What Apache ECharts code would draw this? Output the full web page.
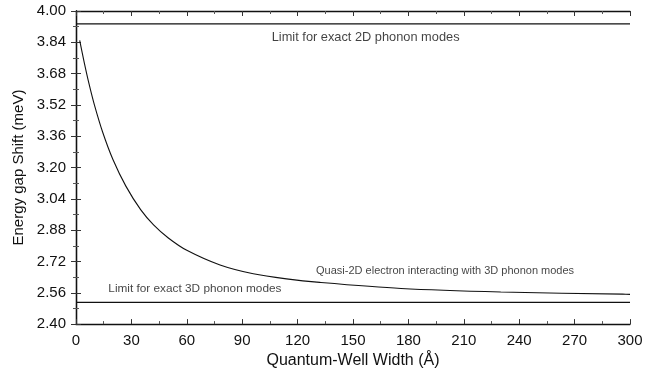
<!DOCTYPE html>
<html><head><meta charset="utf-8">
<script src="https://cdn.jsdelivr.net/npm/echarts@6/dist/echarts.min.js"></script>
<style>html,body{margin:0;padding:0;background:#fff}#c{width:662px;height:374px}</style>
</head><body><div id="c"></div>
<script>
// Data
const curveX = [2, 4.5, 7, 10, 14.5, 20, 27, 35, 42, 50, 60, 78, 96, 114, 132, 176, 230, 296, 300];
const curveY = [3.85, 3.735, 3.63, 3.519, 3.379, 3.241, 3.105, 2.985, 2.907, 2.840, 2.777, 2.702, 2.657, 2.631, 2.613, 2.582, 2.564, 2.553, 2.552];
const limit2D = 3.934;
const limit3D = 2.511;
const xRange = [0, 300];
const yRange = [2.40, 4.00];
const annotX = [106, 130, 17.5];
const annotY = [3.866, 2.673, 2.579];
const annotText = ['Limit for exact 2D phonon modes', 'Quasi-2D electron interacting with 3D phonon modes', 'Limit for exact 3D phonon modes'];
// text styles (kept apart from data)
const annotFontSize = [12.8, 11, 11.8];

const font = "'Liberation Sans', Arial, sans-serif";
const chart = echarts.init(document.getElementById('c'));
const axisCommon = {
  type: 'value',
  axisLine: { show: true, lineStyle: { color: '#111', width: 1.3 } },
  axisTick: { show: true, inside: true, length: 5, lineStyle: { color: '#333' } },
  minorTick: { show: true, splitNumber: 2, length: 3, lineStyle: { color: '#555' } },
  splitLine: { show: false }
};
chart.setOption({
  animation: false,
  grid: { left: 76, right: 32, top: 11, bottom: 41 },
  xAxis: [
    Object.assign({}, axisCommon, {
      min: xRange[0], max: xRange[1], interval: 30, position: 'bottom',
      name: 'Quantum-Well Width (Å)', nameLocation: 'middle', nameGap: 26,
      nameTextStyle: { fontFamily: font, fontSize: 16, color: '#111' },
      axisLabel: { fontFamily: font, fontSize: 15, color: '#111', margin: 9 }
    }),
    Object.assign({}, axisCommon, {
      min: xRange[0], max: xRange[1], interval: 30, position: 'top',
      axisLabel: { show: false }
    })
  ],
  yAxis: [
    Object.assign({}, axisCommon, {
      min: yRange[0], max: yRange[1], interval: 0.16, position: 'left',
      name: 'Energy gap Shift (meV)', nameLocation: 'middle', nameGap: 50,
      nameTextStyle: { fontFamily: font, fontSize: 15, color: '#111' },
      axisLabel: { fontFamily: font, fontSize: 15, color: '#111', margin: 10,
        formatter: v => v.toFixed(2) }
    }),
    Object.assign({}, axisCommon, {
      min: yRange[0], max: yRange[1], interval: 0.16, position: 'right',
      axisLabel: { show: false }
    })
  ],
  series: [
    {
      type: 'line', smooth: 0.3, showSymbol: false,
      data: curveX.map((x, i) => [x, curveY[i]]),
      lineStyle: { color: '#111', width: 1.1 }
    },
    {
      type: 'line', showSymbol: false,
      data: [[xRange[0], limit2D], [xRange[1], limit2D]],
      lineStyle: { color: '#111', width: 1.2 }
    },
    {
      type: 'line', showSymbol: false,
      data: [[xRange[0], limit3D], [xRange[1], limit3D]],
      lineStyle: { color: '#111', width: 1.2 }
    },
    {
      type: 'scatter', symbolSize: 0, silent: true,
      data: annotX.map((x, i) => ({
        value: [x, annotY[i]], name: annotText[i],
        label: { fontSize: annotFontSize[i] }
      })),
      label: { show: true, position: 'right', distance: 0, formatter: p => p.name,
        fontFamily: font, fontSize: 11, color: '#111' }
    }
  ]
});
</script></body></html>
